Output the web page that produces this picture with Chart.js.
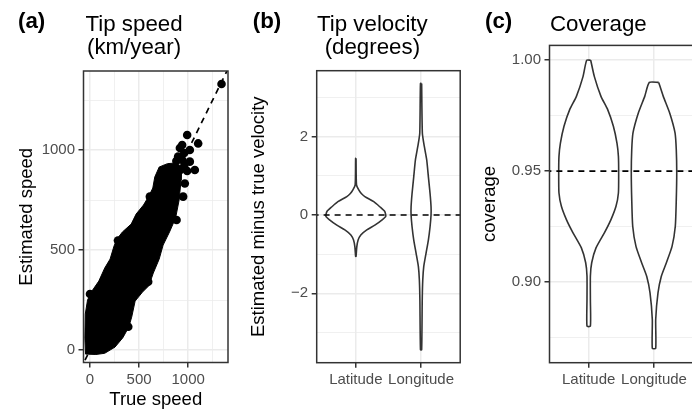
<!DOCTYPE html>
<html>
<head>
<meta charset="utf-8">
<script src="https://cdn.jsdelivr.net/npm/chart.js@4.4.1/dist/chart.umd.min.js"></script>
<style>
  html, body { margin: 0; padding: 0; background: #fff; overflow: hidden; }
  #wrap { position: relative; width: 692px; height: 412px; overflow: hidden; background: #fff; }
  canvas { position: absolute; top: 0; }
</style>
</head>
<body>
<div id="wrap">
  <canvas id="chartA" width="240" height="412" style="left:0px"></canvas>
  <canvas id="chartB" width="230" height="412" style="left:240px"></canvas>
  <canvas id="chartC" width="226" height="412" style="left:470px"></canvas>
</div>
<script>
// ---- (a) tip speed, km/year ----
const speedTicks = [0, 500, 1000];
const speedMinor = [250, 750, 1250];
// outline of the dense cloud of points (true speed, estimated speed)
const cloudTrue = [-45, -52, -48, -25, 20, 90, 150, 205, 245, 275, 330, 420, 470, 545, 600, 640, 660, 705, 790, 870,
                   935, 928, 908, 872, 810, 745, 705, 645, 600, 535, 460, 425, 395, 335, 255, 150, 60];
const cloudEst  = [-20, 60, 180, 250, 295, 345, 410, 455, 520, 555, 590, 630, 680, 725, 770, 810, 865, 915, 932, 935,
                   918, 850, 750, 660, 590, 525, 455, 385, 322, 290, 245, 165, 115, 62, 15, -16, -22];
// single points sticking out of the cloud
const dotTrue = [1340, 990, 1102, 939, 916, 1017, 960, 898, 1017, 940, 880, 1068, 990, 966, 949, 882, 610, 285, 593, 509, 390, 373, 0, 960, 920];
const dotEst  = [1330, 1075, 1033, 1025, 1010, 1000, 985, 967, 942, 950, 945, 900, 895, 833, 767, 650, 767, 548, 342, 325, 117, 217, 280, 920, 900];
const identityEnds = [-100, 1500];

// ---- (b) tip velocity, degrees ----
const violinCats = ['Latitude', 'Longitude'];
const velTicks = [-2, 0, 2];
const velMinor = [-3, -1, 1, 3];
const velRef = 0;
const velLatY = [1.45, 0.77, 0.64, 0.55, 0.47, 0.34, 0.21, 0.09, -0.03, -0.13, -0.26, -0.38, -0.51, -0.64, -0.81, -1.06];
const velLatW = [0.003, 0.01, 0.045, 0.084, 0.138, 0.275, 0.367, 0.443, 0.459, 0.398, 0.291, 0.168, 0.076, 0.035, 0.015, 0.003];
const velLonY = [3.36, 2.09, 1.75, 1.40, 0.98, 0.55, 0.21, 0.0, -0.30, -0.64, -0.98, -1.32, -1.66, -2.17, -3.44];
const velLonW = [0.009, 0.02, 0.05, 0.087, 0.112, 0.138, 0.153, 0.153, 0.138, 0.112, 0.076, 0.041, 0.026, 0.018, 0.009];

// ---- (c) coverage ----
const covTicks = [0.90, 0.95, 1.00];
const covMinor = [0.875, 0.925, 0.975];
const covRef = 0.95;
const covLatY = [1.0, 0.9926, 0.9837, 0.9777, 0.9702, 0.9626, 0.9566, 0.9491, 0.9401, 0.9341, 0.9281, 0.9221, 0.9153, 0.9086, 0.9026, 0.892, 0.88];
const covLatW = [0.031, 0.087, 0.188, 0.291, 0.378, 0.433, 0.455, 0.459, 0.455, 0.418, 0.341, 0.24, 0.112, 0.046, 0.026, 0.026, 0.026];
const covLonY = [0.99, 0.9837, 0.9762, 0.9672, 0.9596, 0.9491, 0.9371, 0.9251, 0.916, 0.9085, 0.9025, 0.895, 0.883, 0.87];
const covLonW = [0.072, 0.142, 0.24, 0.322, 0.341, 0.348, 0.341, 0.326, 0.276, 0.188, 0.112, 0.061, 0.026, 0.026];

const FAMILY = "'Liberation Sans', Arial, Helvetica, sans-serif";
Chart.defaults.font.family = FAMILY;
const INK = '#333333';
const GRID = '#EBEBEB';
const TICK_FONT = { size: 15 };
const AXIS_FONT = { size: 18.5 };

function zip(xs, ys) { return xs.map((x, i) => ({ x: x, y: ys[i] })); }
function closed(pts) { return pts.concat([pts[0]]); }
function sorted(a, b) { return a.concat(b).sort((p, q) => p - q); }

function violin(cat, ys, ws) {
  const right = ys.map((y, i) => ({ x: cat + ws[i], y: y }));
  const left = ys.map((y, i) => ({ x: cat - ws[i], y: y })).reverse();
  return closed(right.concat(left));
}

function gridFor(major) {
  return {
    color: GRID,
    lineWidth: c => major.includes(c.tick.value) ? 1.5 : 0.75,
    tickLength: 5,
    tickWidth: 1.5,
    tickColor: c => major.includes(c.tick.value) ? INK : 'rgba(0,0,0,0)'
  };
}

function axis(o) {
  return {
    type: 'linear', min: o.min, max: o.max,
    afterBuildTicks: s => { s.ticks = o.grid.map(v => ({ value: v })); },
    afterFit: s => {
      if (o.width != null) s.width = o.width;
      if (o.height != null) s.height = o.height;
    },
    grid: gridFor(o.major),
    border: { display: false },
    ticks: { autoSkip: false, maxRotation: 0, minRotation: 0, padding: 3.5, color: '#4D4D4D', font: TICK_FONT, callback: o.label },
    title: o.title ? { display: true, text: o.title, color: '#000', font: AXIS_FONT, padding: o.titlePad } : { display: false }
  };
}

// panel border, tag and title
const panelText = {
  id: 'panelText',
  afterDatasetsDraw(chart) {
    const a = chart.chartArea, ctx = chart.ctx;
    ctx.save();
    ctx.strokeStyle = INK;
    ctx.lineWidth = 1.5;
    ctx.strokeRect(a.left, a.top, a.right - a.left, a.bottom - a.top);
    ctx.restore();
  },
  afterDraw(chart, args, o) {
    const ctx = chart.ctx;
    ctx.save();
    ctx.fillStyle = '#000';
    ctx.textBaseline = 'alphabetic';
    ctx.textAlign = 'left';
    ctx.font = 'bold 22.3px ' + FAMILY;
    ctx.fillText(o.tag, o.tagX, o.tagY);
    ctx.font = '22.3px ' + FAMILY;
    const cx = o.titleX + ctx.measureText(o.title[0]).width / 2;
    ctx.textAlign = 'center';
    o.title.forEach((line, i) => ctx.fillText(line, cx, o.titleY + i * 23.6));
    ctx.restore();
  }
};

function baseOptions(pad, text, scales) {
  return {
    responsive: false, animation: false, events: [],
    layout: { autoPadding: false, padding: pad },
    plugins: { legend: { display: false }, tooltip: { enabled: false }, panelText: text },
    scales: scales
  };
}

function refLine(x0, x1, y) {
  return { type: 'line', data: [{ x: x0, y: y }, { x: x1, y: y }], borderColor: '#000', borderWidth: 1.7,
           borderDash: [6, 5], pointRadius: 0, order: 0 };
}

function violinSet(cat, ys, ws, order) {
  return { type: 'line', data: violin(cat, ys, ws), borderColor: INK, borderWidth: 1.6, backgroundColor: '#fff',
           fill: 'shape', pointRadius: 0, tension: 0.2, order: order };
}

// (a)
new Chart(document.getElementById('chartA'), {
  type: 'line',
  data: {
    datasets: [
      { type: 'line', data: identityEnds.map(v => ({ x: v, y: v })), borderColor: '#000', borderWidth: 1.7,
        borderDash: [6, 5], pointRadius: 0, order: 0 },
      { type: 'line', data: zip(dotTrue, dotEst), showLine: false, pointRadius: 4.3,
        pointBackgroundColor: '#000', pointBorderWidth: 0, order: 1 },
      { type: 'line', data: closed(zip(cloudTrue, cloudEst)), borderColor: '#000', borderWidth: 1,
        backgroundColor: '#000', fill: 'shape', pointRadius: 0, order: 2 }
    ]
  },
  options: baseOptions({ left: 0, top: 71, right: 12, bottom: 0 },
    { tag: '(a)', tagX: 18, tagY: 28, title: ['Tip speed', '(km/year)'], titleX: 85.5, titleY: 30.7 },
    {
      x: axis({ min: -66, max: 1406, grid: sorted(speedTicks, speedMinor), major: speedTicks, height: 49.5,
                label: v => speedTicks.includes(v) ? String(v) : '', title: 'True speed', titlePad: { top: 0, bottom: 1.3 } }),
      y: axis({ min: -62, max: 1395, grid: sorted(speedTicks, speedMinor), major: speedTicks, width: 83.5,
                label: v => speedTicks.includes(v) ? String(v) : '', title: 'Estimated speed', titlePad: { top: 15.8, bottom: 0 } })
    }),
  plugins: [panelText]
});

const catTicks = [1, 2];
const catLabel = v => violinCats[v - 1] || '';

// (b)
new Chart(document.getElementById('chartB'), {
  type: 'line',
  data: {
    datasets: [
      refLine(0, 3, velRef),
      violinSet(1, velLatY, velLatW, 1),
      violinSet(2, velLonY, velLonW, 2)
    ]
  },
  options: baseOptions({ left: 0, top: 70.7, right: 9.8, bottom: 0 },
    { tag: '(b)', tagX: 12.7, tagY: 28, title: ['Tip velocity', '(degrees)'], titleX: 77, titleY: 30.7 },
    {
      x: axis({ min: 0.4, max: 2.6, grid: catTicks, major: catTicks, height: 49.3, label: catLabel }),
      y: axis({ min: -3.773, max: 3.686, grid: sorted(velTicks, velMinor), major: velTicks, width: 76.7,
                label: v => velTicks.includes(v) ? (v < 0 ? '\u2212' + Math.abs(v) : String(v)) : '',
                title: 'Estimated minus true velocity', titlePad: { top: 7.5, bottom: 0 } })
    }),
  plugins: [panelText]
});

// (c)
new Chart(document.getElementById('chartC'), {
  type: 'line',
  data: {
    datasets: [
      refLine(0, 3, covRef),
      violinSet(1, covLatY, covLatW, 1),
      violinSet(2, covLonY, covLonW, 2)
    ]
  },
  options: baseOptions({ left: 0, top: 45.4, right: 2.8, bottom: 0 },
    { tag: '(c)', tagX: 15, tagY: 28, title: ['Coverage'], titleX: 80, titleY: 30.7 },
    {
      x: axis({ min: 0.4, max: 2.6, grid: catTicks, major: catTicks, height: 49.3, label: catLabel }),
      y: axis({ min: 0.8635, max: 1.0067, grid: sorted(covTicks, covMinor), major: covTicks, width: 79.5,
                label: v => covTicks.includes(v) ? v.toFixed(2) : '',
                title: 'coverage', titlePad: { top: 9.2, bottom: 0 } })
    }),
  plugins: [panelText]
});
</script>
</body>
</html>
